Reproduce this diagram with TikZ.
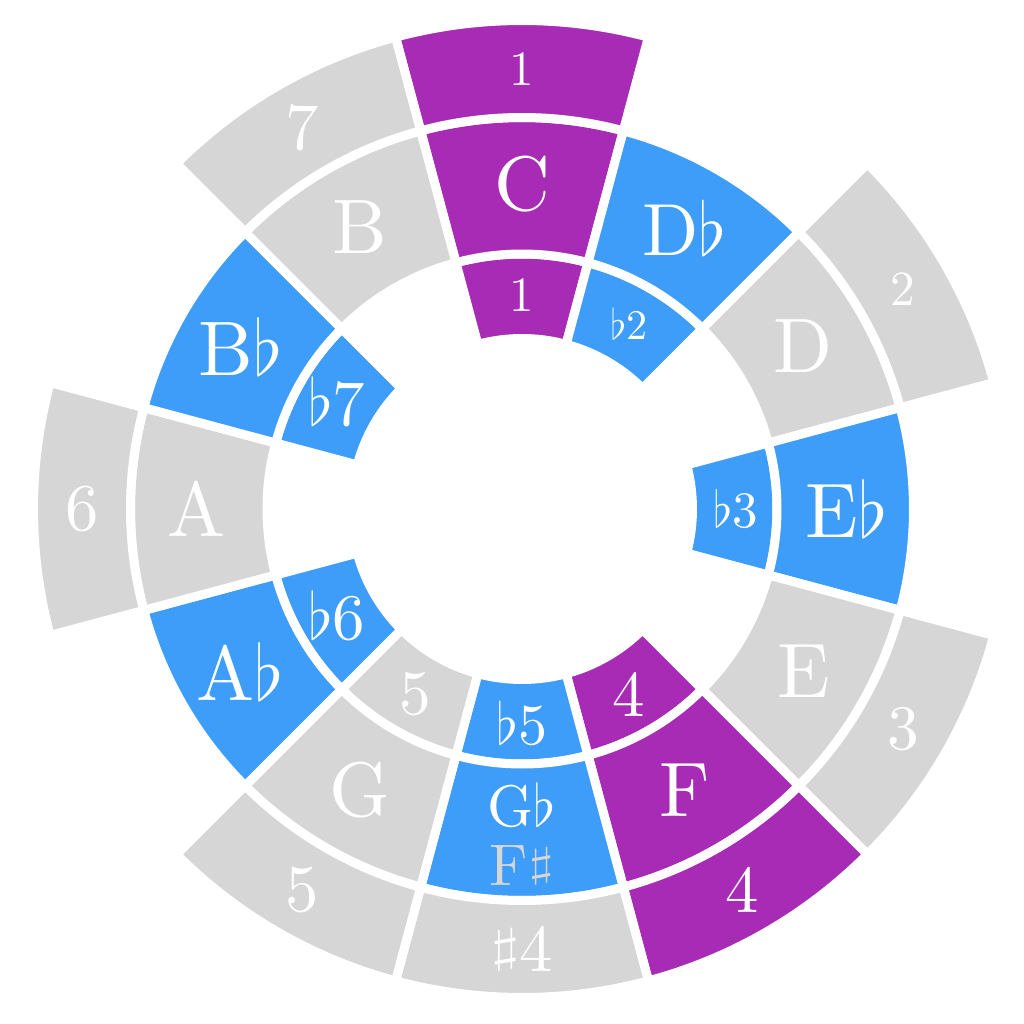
\RequirePackage{fix-cm}
\documentclass[tikz,border=0pt]{standalone}
\usepackage{fontspec}
\setmainfont{lmroman10-regular.otf}
\definecolor{cpurple}{HTML}{A72BB4}
\definecolor{cblue}{HTML}{3D9DF9}
\definecolor{cgray}{HTML}{D6D6D6}
\newcommand{\shp}{\raisebox{.15em}{\scalebox{1.15}[.7]{$\sharp$}}}
\begin{document}
\begin{tikzpicture}[line join=miter]
	\def\ra{1.705}\def\rb{2.55}\def\rc{3.915}\def\rd{4.885}
	\def\ri{2.14}\def\rm{3.25}\def\ro{4.40}
	\tikzset{seg/.style={fill=#1,draw=white,line width=0.9mm},
		lab/.style={text=white,inner sep=0pt,font=\fontsize{#1}{#1}\selectfont}}
	\useasboundingbox (-5.22,-5.15) rectangle (5.02,5.09);
	% inner ring
	\foreach \a/\c in {90/cpurple,60/cblue,0/cblue,-60/cpurple,-90/cblue,-120/cgray,-150/cblue,150/cblue}{
		\draw[seg=\c] ({\a-15}:\ra) arc[start angle=\a-15,end angle=\a+15,radius=\ra]
		--({\a+15}:\rb) arc[start angle=\a+15,end angle=\a-15,radius=\rb]--cycle;	}
	% middle ring
	\foreach \a/\c in {90/cpurple,60/cblue,30/cgray,0/cblue,-30/cgray,-60/cpurple,-90/cblue,-120/cgray,-150/cblue,180/cgray,150/cblue,120/cgray}{
		\draw[seg=\c] ({\a-15}:\rb) arc[start angle=\a-15,end angle=\a+15,radius=\rb]
		--({\a+15}:\rc) arc[start angle=\a+15,end angle=\a-15,radius=\rc]--cycle;	}
	% outer ring
	\foreach \a/\c in {90/cpurple,30/cgray,-30/cgray,-60/cpurple,-90/cgray,-120/cgray,180/cgray,120/cgray}{
		\draw[seg=\c] ({\a-15}:\rc) arc[start angle=\a-15,end angle=\a+15,radius=\rc]
		--({\a+15}:\rd) arc[start angle=\a+15,end angle=\a-15,radius=\rd]--cycle;	}
	% labels
	\foreach \a/\n/\t/\s in {90/1/1/14,60/2/$\flat$2/12,0/3/$\flat$3/14.5,-60/4/4/18.5,-90/5b/$\flat$5/16.5,-120/5/5/18,-150/6/$\flat$6/18.5,150/7/$\flat$7/18.5}{
		\node[lab=\s](i\n) at (\a:\ri){\t};	}
	\foreach \a/\n/\t/\s in {90/C/C/22,60/Db/D$\flat$/21,30/D/D/22,0/Eb/E$\flat$/22,-30/E/E/22,-60/F/F/22,-120/G/G/22,-150/Ab/A$\flat$/22,180/A/A/22,150/Bb/B$\flat$/22,120/B/B/22}{
		\node[lab=\s](m\n) at (\a:\rm){\t};	}
	\node[lab=16.7,align=center](mGb) at (-90:\rm){G$\flat$\\\textcolor{cgray}{F\shp}};
	\foreach \a/\n/\t/\s in {90/1/1/14,30/2/2/14,-30/3/3/18,-60/4/4/19,-90/4s/\shp4/19,-120/5/5/19,180/6/6/19,120/7/7/19}{
		\node[lab=\s](o\n) at (\a:\ro){\t};	}
\end{tikzpicture}
\end{document}
